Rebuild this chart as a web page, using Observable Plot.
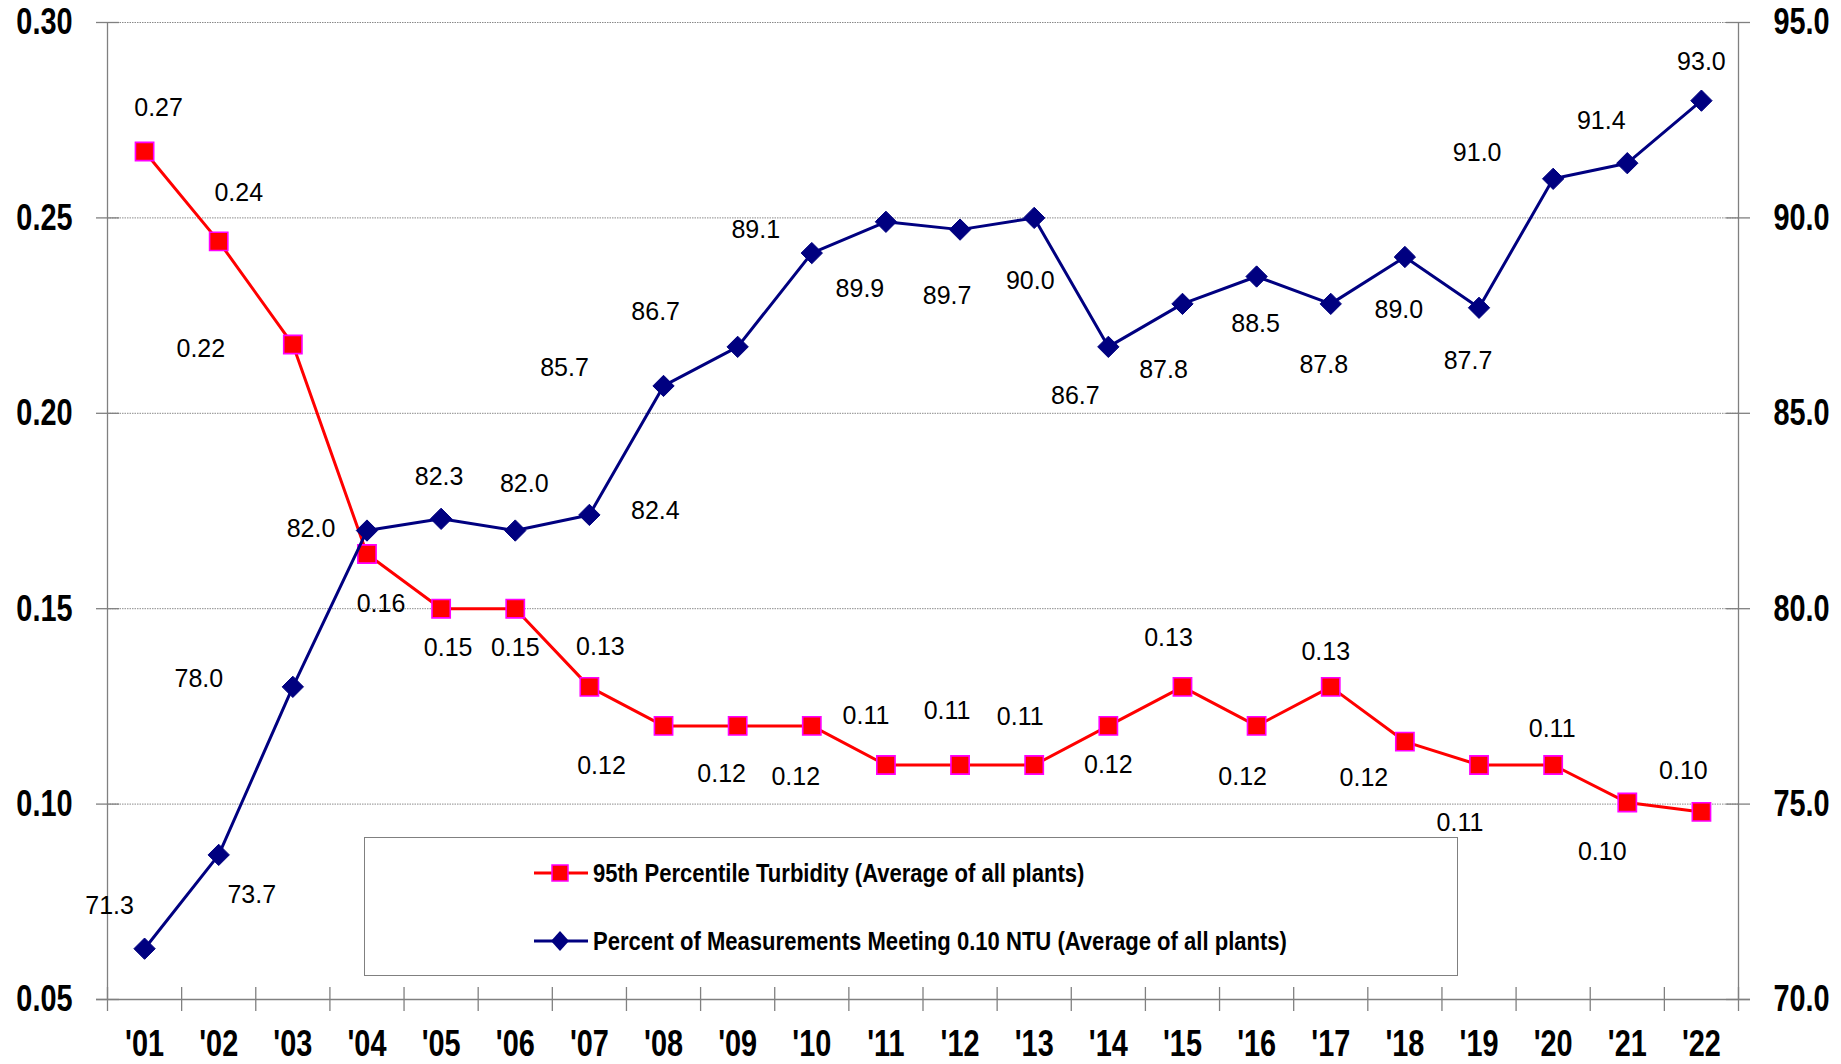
<!DOCTYPE html>
<html>
<head>
<meta charset="utf-8">
<script src="https://cdn.jsdelivr.net/npm/d3@7"></script>
<script src="https://cdn.jsdelivr.net/npm/@observablehq/plot@0.6"></script>
<style>
  html, body { margin: 0; padding: 0; background: #fff; }
  #wrap { position: relative; width: 1841px; height: 1064px; }
  #legend {
    position: absolute; left: 364px; top: 837px; width: 1094px; height: 139px;
    border: 1px solid #808080; background: #fff; box-sizing: border-box;
    font-family: "Liberation Sans", Arial, sans-serif;
    font-weight: bold; font-size: 25px; color: #000;
  }
  .item { position: absolute; left: 169px; display: flex; align-items: center; height: 30px; white-space: nowrap; }
  .item svg { margin-right: 5px; flex: none; }
  .item span { display: inline-block; transform-origin: 0 50%; }
</style>
</head>
<body>
<div id="wrap">
  <div id="chart"></div>
  <div id="legend"></div>
</div>
<script>
// ---- data ----
const years = ["'01","'02","'03","'04","'05","'06","'07","'08","'09","'10","'11","'12","'13","'14","'15","'16","'17","'18","'19","'20","'21","'22"];
const turbidity = [0.267, 0.244, 0.2176, 0.164, 0.150, 0.150, 0.130, 0.120, 0.120, 0.120, 0.110, 0.110, 0.110, 0.120, 0.130, 0.120, 0.130, 0.116, 0.110, 0.110, 0.1004, 0.098];
const percentMeeting = [71.3, 73.7, 78.0, 82.0, 82.3, 82.0, 82.4, 85.7, 86.7, 89.1, 89.9, 89.7, 90.0, 86.7, 87.8, 88.5, 87.8, 89.0, 87.7, 91.0, 91.4, 93.0];
const leftTicks = [0.05, 0.10, 0.15, 0.20, 0.25, 0.30];
const rightTicks = [70, 75, 80, 85, 90, 95];
const seriesNames = ["95th Percentile Turbidity (Average of all plants)", "Percent of Measurements Meeting 0.10 NTU (Average of all plants)"];

// ---- label placement (pixel offsets from each point) ----
const turbLabelDx = [14, 20, -92, 14, 7, 0, 11, -62, -16, -16, -20, -13, -14, 0, -14, -14, -5, -41, -19, -1, -25, -18];
const turbLabelDy = [-43, -48, 4, 50, 39, 39, -40, 40, 48, 51, -49, -54, -48, 39, -49, 51, -35, 36, 58, -36, 49, -41];
const pctLabelDx = [-35, 33, -94, -56, -2, 9, 66, -99, -82, -56, -26, -13, -4, -33, -19, -1, -7, -6, -11, -76, -26, 0];
const pctLabelDy = [-43, 40, -8, -2, -42, -47, -4, -18, -35, -23, 67, 66, 63, 49, 66, 47, 61, 53, 53, -26, -42, -39];

// ---- layout ----
const W = 1841, H = 1064;
const mL = 107, mR = 103, mT = 22, mB = 65;
const plotW = W - mL - mR, plotH = H - mT - mB;

const RED = "#ff0000", MAGENTA = "#ff00ff", NAVY = "#000080", GRAY = "#808080";
const tickFont = {fontFamily: "'Liberation Sans', Arial, sans-serif", fontWeight: "bold", fontSize: 37};
const labelFont = "'Liberation Sans', Arial, sans-serif";
const NARROW = 0.78; // condensed look of the original bold tick font

const pctToY = p => 0.05 + (p - 70) * 0.01;
const yToPct = y => Math.round((y - 0.05) * 100 + 70);

const turbData = years.map((yr, i) => ({i: i + 1, yr, v: turbidity[i], dx: turbLabelDx[i], dy: turbLabelDy[i], label: turbidity[i].toFixed(2)}));
const pctData = years.map((yr, i) => ({i: i + 1, yr, v: pctToY(percentMeeting[i]), dx: pctLabelDx[i], dy: pctLabelDy[i], label: percentMeeting[i].toFixed(1)}));
const boundaries = d3.range(0, years.length + 1).map(k => k + 0.5);

const labelMarks = [];
for (const d of turbData) {
  labelMarks.push(Plot.text([d], {x: "i", y: "v", text: "label", dx: d.dx, dy: d.dy, fontFamily: labelFont, fontSize: 25, fill: "#000", textAnchor: "middle", lineAnchor: "middle"}));
}
for (const d of pctData) {
  labelMarks.push(Plot.text([d], {x: "i", y: "v", text: "label", dx: d.dx, dy: d.dy, fontFamily: labelFont, fontSize: 25, fill: "#000", textAnchor: "middle", lineAnchor: "middle"}));
}

const chart = Plot.plot({
  width: W, height: H,
  marginLeft: mL, marginRight: mR, marginTop: mT, marginBottom: mB,
  style: {background: "#fff", overflow: "visible"},
  x: {domain: [0.5, years.length + 0.5], axis: null},
  y: {domain: [0.05, 0.30], axis: null},
  marks: [
    Plot.ruleY(leftTicks.slice(1), {stroke: "#8a8a8a", strokeWidth: 1, strokeDasharray: "1.5,1"}),
    Plot.ruleX([0.5, years.length + 0.5], {stroke: GRAY, strokeWidth: 1.3}),
    Plot.ruleY([0.05], {stroke: GRAY, strokeWidth: 1.3, insetLeft: -11, insetRight: -12}),
    Plot.ruleY(leftTicks, {stroke: GRAY, strokeWidth: 1.3, insetLeft: -11, insetRight: plotW - 12}),
    Plot.ruleY(leftTicks, {stroke: GRAY, strokeWidth: 1.3, insetLeft: plotW - 12, insetRight: -12}),
    Plot.ruleX(boundaries, {stroke: GRAY, strokeWidth: 1.3, insetTop: plotH - 12, insetBottom: -12}),
    Plot.axisY(leftTicks, {anchor: "left", tickSize: 0, tickPadding: 35, tickFormat: d => d.toFixed(2), label: null, ...tickFont}),
    Plot.axisY(leftTicks, {anchor: "right", tickSize: 0, tickPadding: 35, tickFormat: d => yToPct(d).toFixed(1), label: null, textAnchor: "start", ...tickFont}),
    Plot.axisX(years.map((_, i) => i + 1), {anchor: "bottom", tickSize: 0, tickPadding: 30, tickFormat: d => years[d - 1], label: null, ...tickFont}),
    Plot.line(turbData, {x: "i", y: "v", stroke: RED, strokeWidth: 3}),
    Plot.dot(turbData, {x: "i", y: "v", symbol: "square", r: 10.3, fill: RED, stroke: MAGENTA, strokeWidth: 1.6}),
    Plot.line(pctData, {x: "i", y: "v", stroke: NAVY, strokeWidth: 3}),
    Plot.dot(pctData, {x: "i", y: "v", symbol: "diamond2", r: 9.6, fill: NAVY, stroke: NAVY, strokeWidth: 1}),
    ...labelMarks
  ]
});
document.getElementById("chart").appendChild(chart);

// condense the bold tick labels (no narrow face is installed):
// scale each label horizontally about its own anchor point
chart.querySelectorAll('g[aria-label$="tick label"] text').forEach(t => {
  const tr = t.getAttribute("transform");
  if (tr && /translate/.test(tr)) {
    t.setAttribute("transform", `${tr} scale(${NARROW},1)`);
  } else {
    const w = t.getComputedTextLength();
    t.setAttribute("textLength", (w * NARROW).toFixed(1));
    t.setAttribute("lengthAdjust", "spacingAndGlyphs");
  }
});

// ---- legend ----
const legend = document.getElementById("legend");
const legendItems = [
  {name: seriesNames[0], color: RED, symbol: "square", top: 35},
  {name: seriesNames[1], color: NAVY, symbol: "diamond", top: 103}
];
const spans = [];
for (const it of legendItems) {
  const div = document.createElement("div");
  div.className = "item";
  div.style.top = (it.top - 15) + "px";
  const sym = it.symbol === "square"
    ? `<rect x="18" y="7" width="16" height="16" fill="${RED}" stroke="${MAGENTA}" stroke-width="1.5"/>`
    : `<path d="M26,5 L35,15 L26,25 L17,15 Z" fill="${NAVY}"/>`;
  div.innerHTML = `<svg width="54" height="30"><line x1="0" y1="15" x2="54" y2="15" stroke="${it.color}" stroke-width="3"/>${sym}</svg><span>${it.name}</span>`;
  legend.appendChild(div);
  spans.push(div.querySelector("span"));
}
const natural = spans[1].getBoundingClientRect().width;
const squeeze = 694 / natural;
spans.forEach(s => s.style.transform = `scaleX(${squeeze.toFixed(3)})`);
</script>
</body>
</html>
